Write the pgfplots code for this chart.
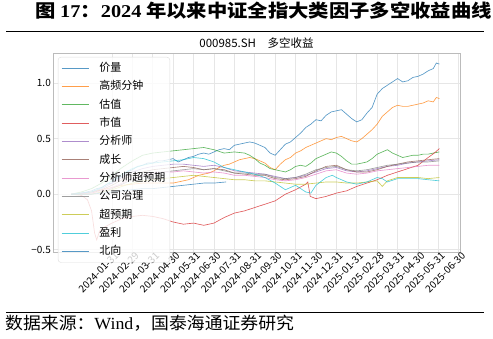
\documentclass[border=0pt]{standalone}
\usepackage{fontspec}
\setmainfont{Liberation Serif}
\newfontfamily\cjk{Noto Sans CJK SC}
\usepackage{pgfplots}
\pgfplotsset{compat=1.18}
\definecolor{c1}{HTML}{1F77B4}
\definecolor{c2}{HTML}{FF7F0E}
\definecolor{c3}{HTML}{2CA02C}
\definecolor{c4}{HTML}{D62728}
\definecolor{c5}{HTML}{9467BD}
\definecolor{c6}{HTML}{8C564B}
\definecolor{c7}{HTML}{E377C2}
\definecolor{c8}{HTML}{7F7F7F}
\definecolor{c9}{HTML}{BCBD22}
\definecolor{c10}{HTML}{17BECF}
\definecolor{framec}{HTML}{BBBBBB}
\definecolor{gridc}{HTML}{E6E6E6}
\definecolor{legc}{HTML}{DDDDDD}
\begin{document}
\begin{tikzpicture}
\useasboundingbox (0pt,0pt) rectangle (493pt,-339pt);
\node[anchor=base west, inner sep=0pt] at (35pt,-18pt) {\scalebox{1.13}[1]{\cjk\bfseries\fontsize{18}{21}\selectfont 图\ {\rmfamily 17}：{\rmfamily 2024} 年以来中证全指大类因子多空收益曲线}};
\draw[line width=0.8pt] (6pt,-31.7pt) -- (484pt,-31.7pt);
\draw[line width=0.8pt] (6pt,-312pt) -- (484pt,-312pt);
\node[anchor=base west, inner sep=0pt] at (5pt,-330pt) {\scalebox{1.05}[1]{\cjk\fontsize{17}{20}\selectfont 数据来源：{\rmfamily Wind}，国泰海通证券研究}};
\begin{axis}[
 at={(53pt,-252pt)}, anchor=south west, scale only axis, width=407pt, height=199pt,
 xmin=-2.89, xmax=17.06, ymin=-0.52, ymax=1.27,
 axis line style={draw=framec, line width=0.8pt},
 grid=major, major grid style={draw=gridc, line width=0.7pt},
 major tick length=0pt,
 xtick={0,...,17},
 xticklabels={2024-01-31,2024-02-29,2024-03-31,2024-04-30,2024-05-31,2024-06-30,2024-07-31,2024-08-31,2024-09-30,2024-10-31,2024-11-30,2024-12-31,2025-01-31,2025-02-28,2025-03-31,2025-04-30,2025-05-31,2025-06-30},
 xticklabel style={rotate=45, anchor=north east, font=\cjk\fontsize{10}{12}\selectfont, inner sep=1pt, xshift=3pt},
 ytick={-0.5,0,0.5,1},
 yticklabels={−0.5,0.0,0.5,1.0},
 yticklabel style={font=\cjk\fontsize{10}{12}\selectfont, inner sep=2pt},
 title={000985.SH\quad 多空收益},
 title style={font=\cjk\fontsize{11.5}{13}\selectfont, yshift=-5pt},
 every axis plot/.append style={line width=0.65pt, opacity=0.75},
 legend style={at={(0.012,0.98)}, anchor=north west, fill=white, fill opacity=0.8, draw opacity=1, text opacity=1, draw=legc, rounded corners=3pt, font=\cjk\fontsize{11}{13}\selectfont, row sep=4.0pt, inner xsep=3pt, inner ysep=4pt, nodes={inner sep=1.5pt, text height=9pt, text depth=2.3pt}},
 legend cell align=left,
 legend image code/.code={\draw[#1, line width=0.9pt] (0pt,0pt) -- (27pt,0pt); \path (36pt,0pt);},
]
% 价量
\addplot[c1] coordinates {(-2,0) (-1.75,0.0) (-1.5,0.01) (-1.25,0.02) (-1,0.03) (-0.75,0.05) (-0.5,0.06) (-0.25,0.09) (0,0.10) (0.25,0.14) (0.5,0.16) (0.75,0.20) (1,0.22) (1.25,0.25) (1.5,0.26) (1.75,0.28) (2,0.28) (2.25,0.30) (2.5,0.30) (2.75,0.31) (3,0.32) (3.25,0.29) (3.5,0.31) (3.75,0.33) (4,0.34) (4.25,0.36) (4.5,0.37) (4.75,0.36) (5,0.38) (5.25,0.40) (5.5,0.41) (5.75,0.40) (6,0.44) (6.25,0.45) (6.5,0.46) (6.75,0.47) (7,0.46) (7.25,0.44) (7.5,0.42) (7.75,0.37) (8,0.35) (8.25,0.40) (8.5,0.45) (8.75,0.47) (9,0.51) (9.25,0.55) (9.5,0.60) (9.75,0.63) (10,0.67) (10.25,0.66) (10.5,0.71) (10.75,0.74) (11,0.75) (11.25,0.76) (11.5,0.72) (11.75,0.68) (12,0.65) (12.25,0.67) (12.5,0.73) (12.75,0.78) (13,0.90) (13.25,0.95) (13.5,0.98) (13.75,1.01) (14,1.04) (14.25,1.01) (14.5,1.02) (14.75,1.05) (15,1.06) (15.25,1.08) (15.5,1.11) (15.75,1.13) (15.9,1.18) (16.05,1.17)};
% 高频分钟
\addplot[c2] coordinates {(-2,0) (-1.5,0.0) (-1,0.02) (-0.5,0.04) (0,0.06) (0.5,0.08) (1,0.09) (1.5,0.10) (2,0.10) (2.5,0.10) (3,0.10) (3.25,0.11) (3.5,0.12) (3.75,0.13) (4,0.15) (4.25,0.17) (4.5,0.18) (4.75,0.19) (5,0.21) (5.25,0.24) (5.5,0.26) (5.75,0.27) (6,0.29) (6.25,0.31) (6.5,0.32) (6.75,0.33) (7,0.32) (7.25,0.30) (7.5,0.28) (7.75,0.24) (8,0.22) (8.25,0.27) (8.5,0.31) (8.75,0.33) (9,0.37) (9.25,0.39) (9.5,0.42) (9.75,0.44) (10,0.46) (10.25,0.48) (10.5,0.50) (10.75,0.49) (11,0.51) (11.25,0.52) (11.5,0.50) (11.75,0.48) (12,0.47) (12.25,0.50) (12.5,0.54) (12.75,0.58) (13,0.63) (13.25,0.70) (13.5,0.74) (13.75,0.78) (14,0.80) (14.25,0.79) (14.5,0.79) (14.75,0.80) (15,0.81) (15.25,0.82) (15.5,0.84) (15.75,0.83) (15.9,0.87) (16.05,0.86)};
% 估值
\addplot[c3] coordinates {(-2,0) (-1.5,0.02) (-1,0.05) (-0.5,0.10) (0,0.17) (0.5,0.24) (1,0.30) (1.5,0.35) (2,0.37) (2.5,0.38) (3,0.39) (3.5,0.40) (4,0.41) (4.5,0.42) (5,0.40) (5.5,0.37) (6,0.38) (6.5,0.37) (6.75,0.35) (7,0.32) (7.25,0.28) (7.5,0.26) (7.75,0.23) (8,0.22) (8.25,0.21) (8.5,0.20) (8.75,0.22) (9,0.25) (9.25,0.26) (9.5,0.25) (9.75,0.28) (10,0.32) (10.25,0.34) (10.5,0.36) (10.75,0.38) (11,0.37) (11.25,0.34) (11.5,0.30) (11.75,0.27) (12,0.27) (12.25,0.28) (12.5,0.29) (12.75,0.32) (13,0.36) (13.25,0.38) (13.5,0.40) (13.75,0.37) (14,0.35) (14.25,0.33) (14.5,0.34) (14.75,0.35) (15,0.35) (15.25,0.36) (15.5,0.36) (15.75,0.37) (16.05,0.38)};
% 市值
\addplot[c4] coordinates {(-2,0) (-1.5,-0.01) (-1.2,-0.05) (-1,-0.15) (-0.85,-0.35) (-0.75,-0.41) (-0.6,-0.33) (-0.4,-0.30) (0,-0.26) (0.5,-0.22) (1,-0.20) (1.5,-0.19) (2,-0.20) (2.5,-0.22) (3,-0.25) (3.5,-0.27) (4,-0.26) (4.5,-0.28) (5,-0.26) (5.5,-0.21) (6,-0.17) (6.5,-0.15) (7,-0.12) (7.5,-0.09) (8,-0.06) (8.5,0.0) (9,0.04) (9.5,0.09) (9.6,0.11) (9.72,-0.02) (10,-0.04) (10.5,-0.02) (11,0.01) (11.5,0.03) (12,0.07) (12.5,0.10) (13,0.13) (13.5,0.17) (14,0.20) (14.5,0.23) (15,0.26) (15.5,0.33) (15.8,0.37) (16.05,0.41)};
% 分析师
\addplot[c5] coordinates {(-2,0) (-1,0.02) (-0.5,0.05) (0,0.10) (0.5,0.15) (1,0.20) (1.5,0.23) (2,0.25) (2.5,0.26) (3,0.27) (3.5,0.27) (4,0.26) (4.5,0.25) (5,0.26) (5.5,0.24) (6,0.21) (6.5,0.20) (7,0.19) (7.5,0.18) (8,0.16) (8.5,0.14) (9,0.15) (9.5,0.17) (10,0.20) (10.5,0.23) (11,0.24) (11.5,0.21) (12,0.20) (12.5,0.21) (13,0.23) (13.5,0.25) (14,0.26) (14.5,0.28) (15,0.29) (15.5,0.30) (16.05,0.31)};
% 成长
\addplot[c6] coordinates {(-2,0) (-1,0.01) (-0.5,0.04) (0,0.08) (0.5,0.13) (1,0.17) (1.5,0.20) (2,0.22) (2.5,0.23) (3,0.24) (3.5,0.25) (4,0.24) (4.5,0.22) (5,0.23) (5.5,0.22) (6,0.19) (6.5,0.18) (7,0.17) (7.5,0.17) (8,0.14) (8.5,0.13) (9,0.14) (9.5,0.16) (10,0.21) (10.5,0.25) (11,0.26) (11.5,0.22) (12,0.20) (12.5,0.20) (13,0.22) (13.5,0.25) (14,0.27) (14.5,0.29) (15,0.30) (15.5,0.31) (16.05,0.32)};
% 分析师超预期
\addplot[c7] coordinates {(-2,0) (-1,0.01) (-0.5,0.03) (0,0.06) (0.5,0.10) (1,0.14) (1.5,0.17) (2,0.19) (2.5,0.20) (3,0.20) (3.5,0.21) (4,0.20) (4.5,0.19) (5,0.20) (5.5,0.19) (6,0.17) (6.5,0.17) (7,0.16) (7.5,0.15) (8,0.13) (8.5,0.12) (9,0.13) (9.5,0.15) (10,0.18) (10.5,0.21) (11,0.22) (11.5,0.19) (12,0.18) (12.5,0.19) (13,0.21) (13.5,0.22) (14,0.23) (14.5,0.24) (15,0.25) (15.5,0.26) (16.05,0.26)};
% 公司治理
\addplot[c8] coordinates {(-2,0) (-1,0.0) (-0.5,0.02) (0,0.05) (0.5,0.09) (1,0.13) (1.5,0.16) (2,0.18) (2.5,0.20) (3,0.21) (3.5,0.22) (4,0.23) (4.5,0.22) (5,0.23) (5.5,0.21) (6,0.19) (6.5,0.19) (7,0.18) (7.5,0.18) (8,0.15) (8.5,0.14) (9,0.15) (9.5,0.18) (10,0.22) (10.5,0.24) (11,0.25) (11.5,0.22) (12,0.21) (12.5,0.22) (13,0.24) (13.5,0.26) (14,0.27) (14.5,0.28) (15,0.29) (15.5,0.29) (16.05,0.30)};
% 超预期
\addplot[c9] coordinates {(-2,0) (-1,0.0) (-0.5,0.02) (0,0.04) (0.5,0.07) (1,0.10) (1.5,0.12) (2,0.13) (2.5,0.14) (3,0.15) (3.5,0.16) (4,0.17) (4.5,0.16) (5,0.15) (5.5,0.14) (6,0.13) (6.5,0.13) (7,0.12) (7.5,0.12) (8,0.11) (8.5,0.10) (9,0.09) (9.5,0.09) (10,0.10) (10.5,0.11) (11,0.11) (11.5,0.10) (12,0.10) (12.5,0.11) (13,0.12) (13.25,0.07) (13.5,0.12) (14,0.15) (14.5,0.15) (15,0.15) (15.5,0.14) (16.05,0.15)};
% 盈利
\addplot[c10] coordinates {(-2,0) (-1,0.02) (-0.5,0.06) (0,0.12) (0.5,0.18) (1,0.23) (1.5,0.26) (2,0.28) (2.5,0.29) (3,0.30) (3.5,0.31) (4,0.33) (4.5,0.32) (5,0.29) (5.5,0.24) (6,0.22) (6.5,0.20) (7,0.18) (7.5,0.15) (8,0.10) (8.5,0.04) (9,0.08) (9.5,0.02) (9.75,0.01) (10,0.08) (10.5,0.15) (10.8,0.17) (11,0.15) (11.5,0.11) (12,0.09) (12.5,0.11) (13,0.15) (13.25,0.14) (13.5,0.11) (14,0.14) (14.5,0.14) (15,0.14) (15.5,0.13) (16.05,0.12)};
% 北向
\addplot[c1] coordinates {(-2,0) (-1,0.0) (-0.5,0.01) (0,0.02) (0.5,0.03) (1,0.04) (1.5,0.05) (2,0.05) (2.5,0.06) (3,0.07) (3.5,0.08) (4,0.09) (4.5,0.10) (5,0.10) (5.6,0.11)};
\legend{价量,高频分钟,估值,市值,分析师,成长,分析师超预期,公司治理,超预期,盈利,北向}
\end{axis}
\end{tikzpicture}
\end{document}
